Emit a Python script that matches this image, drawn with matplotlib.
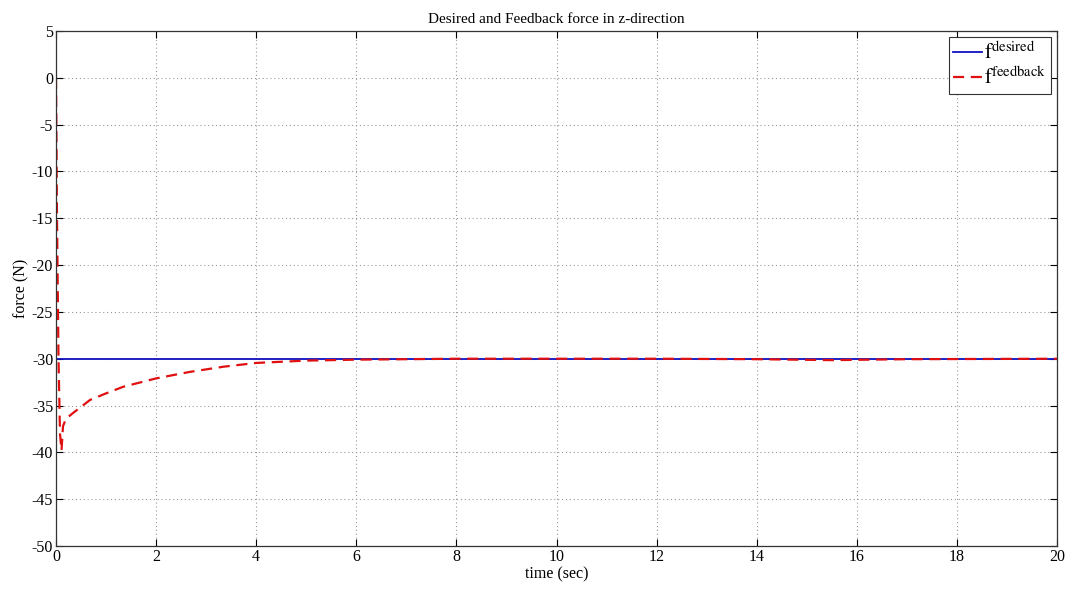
import matplotlib
matplotlib.use("Agg")
import matplotlib.pyplot as plt
import numpy as np

plt.rcParams['font.family'] = ['Liberation Serif', 'DejaVu Serif']
plt.rcParams['mathtext.fontset'] = 'stix'
plt.rcParams['axes.unicode_minus'] = False

time_desired = [0, 20]
force_desired = [-30, -30]

time_feedback = [0.0, 0.02, 0.05, 0.08, 0.11, 0.14, 0.2, 0.34, 0.68, 1.0, 1.34, 2.0, 2.68,
                 3.35, 4.0, 5.0, 6.0, 7.0, 8.0, 10.0, 12.0, 14.0, 15.5, 17.0, 20.0]
force_feedback = [0.0, -15.0, -30.0, -38.0, -39.8, -37.2, -36.4, -35.8, -34.4, -33.7, -33.0, -32.1, -31.4,
                  -30.85, -30.45, -30.2, -30.1, -30.05, -30.0, -30.0, -30.0, -30.05, -30.15, -30.05, -30.0]

xticks = [0, 2, 4, 6, 8, 10, 12, 14, 16, 18, 20]
yticks = [5, 0, -5, -10, -15, -20, -25, -30, -35, -40, -45, -50]

fig = plt.figure(figsize=(10.76, 5.9), dpi=100)
ax = fig.add_axes([56/1076, 1 - 546/590, (1057-56)/1076, (546-31)/590])

ax.plot(time_desired, force_desired, color='#1010c0', lw=1.3, label=r'$\mathrm{f}^{\mathrm{desired}}$')
ax.plot(time_feedback, force_feedback, color='#e01010', lw=1.6, ls=(0, (5, 3)), label=r'$\mathrm{f}^{\mathrm{feedback}}$')

ax.set_xlim(0, 20)
ax.set_ylim(-50, 5)
ax.set_xticks(xticks)
ax.set_yticks(yticks)
ax.tick_params(direction='in', top=True, right=True, labelsize=11.5, length=5, pad=2)
ax.grid(True, color='#999999', ls=(0, (1, 2.5)), lw=0.8)
for s in ax.spines.values():
    s.set_color('#333333')
    s.set_linewidth(0.9)

ax.set_title('Desired and Feedback force in z-direction', fontsize=11, pad=6)
ax.set_xlabel('time (sec)', fontsize=11.5, labelpad=1)
ax.set_ylabel('force (N)', fontsize=11.5, labelpad=2)

leg = ax.legend(loc='upper right', fontsize=15, fancybox=False, framealpha=1,
                edgecolor='#333333', handlelength=1.4, borderaxespad=0.3, labelspacing=0.15,
                handletextpad=0.1, borderpad=0.2)
leg.get_frame().set_linewidth(0.8)

fig.savefig('out.png', dpi=100)
